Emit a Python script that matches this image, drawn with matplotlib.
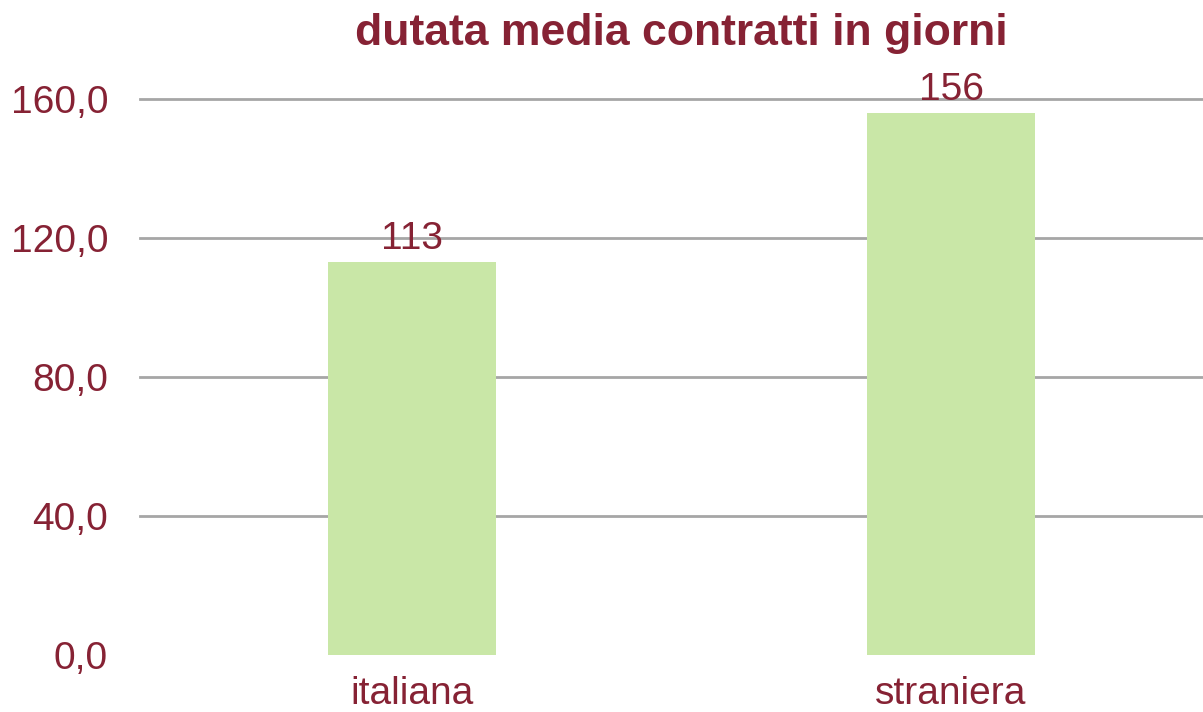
import matplotlib
matplotlib.use("Agg")
import matplotlib.pyplot as plt

categories = ["italiana", "straniera"]
values = [113, 156]
yticks = [0, 40, 80, 120, 160]
title = "dutata media contratti in giorni"

text_color = "#862234"
bar_color = "#C9E7A7"
grid_color = "#A6A6A6"

plt.rcParams['font.family'] = ['Liberation Sans', 'DejaVu Sans']

W, H = 1203, 712
fig = plt.figure(figsize=(W / 100, H / 100), dpi=100)
left_px, right_px, top_px, bottom_px = 140, 1203, 99, 655
ax = fig.add_axes([left_px / W, (H - bottom_px) / H, (right_px - left_px) / W, (bottom_px - top_px) / H])

x = list(range(len(categories)))
ax.bar(x, values, width=0.312, color=bar_color, zorder=2)
for xi, v in zip(x, values):
    ax.text(xi, v + 1.4, f"{v}", ha="center", va="bottom", fontsize=28, color=text_color, zorder=4, clip_on=False)

ax.set_xlim((140 - 412) / 539, (1203 - 412) / 539)
ax.set_ylim(0, 160)
ax.set_yticks(yticks)
ax.set_yticklabels([f"{t:.1f}".replace(".", ",") for t in yticks], fontsize=28, color=text_color)
ax.set_xticks(x)
ax.set_xticklabels(categories, fontsize=28, color=text_color)
ax.tick_params(length=0)
ax.tick_params(axis="x", pad=15)
ax.tick_params(axis="y", pad=23)
for t in yticks[1:]:
    ax.axhline(t, color=grid_color, lw=2, zorder=1, clip_on=False)
for s in ax.spines.values():
    s.set_visible(False)

fig.text(0.566, 0.953, title, ha="center", va="center", fontsize=32, fontweight="bold", color=text_color)

fig.savefig("out.png", dpi=100)
